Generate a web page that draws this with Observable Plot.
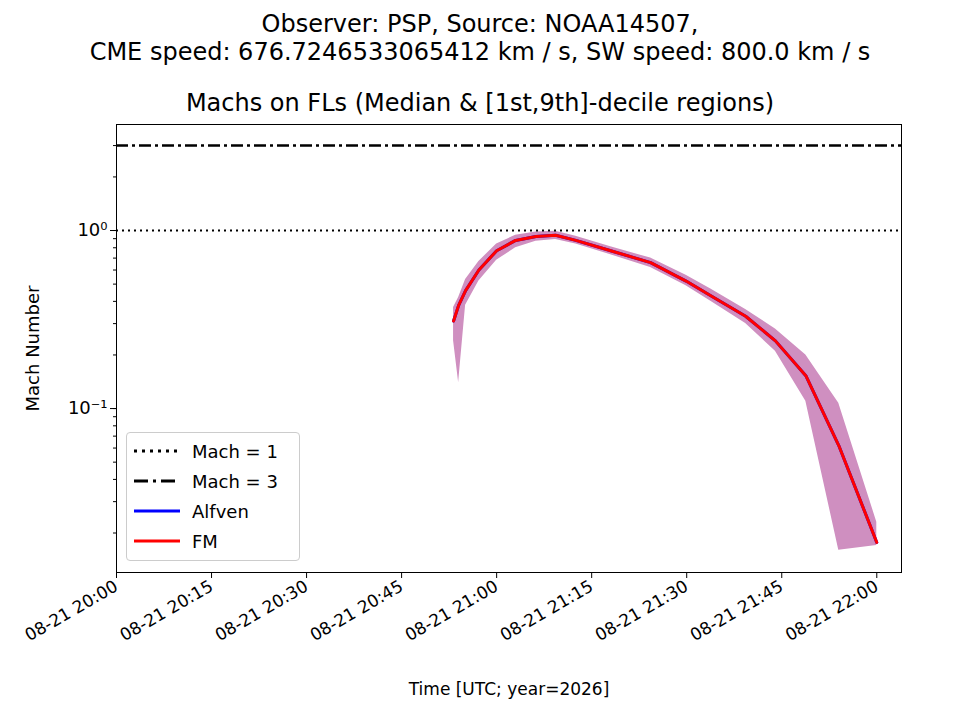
<!DOCTYPE html>
<html><head><meta charset="utf-8">
<script src="https://cdn.jsdelivr.net/npm/d3@7"></script>
<script src="https://cdn.jsdelivr.net/npm/@observablehq/plot@0.6"></script>
<style>
body{margin:0;font-family:"DejaVu Sans",sans-serif;background:#fff}
#wrap{position:relative;width:960px;height:720px}
.t{position:absolute;left:0;width:960px;text-align:center;font-size:24px;line-height:28px}
#leg{position:absolute;left:126px;top:432px;width:172px;height:127px;border:1px solid #ccc;border-radius:4px;background:rgba(255,255,255,0.8);font-size:18px}
#leg div{height:30px;display:flex;align-items:center}
#leg svg{margin:0 12px 0 7px}
</style></head><body>
<div id="wrap">
<div class="t" style="top:10px">Observer: PSP, Source: NOAA14507,<br>CME speed: 676.7246533065412 km / s, SW speed: 800.0 km / s</div>
<div class="t" style="top:89px">Machs on FLs (Median &amp; [1st,9th]-decile regions)</div>
<div id="chart"></div>
<div id="leg">
<div style="margin-top:3px"><svg width="46" height="10"><line x1="0" x2="46" y1="5" y2="5" stroke="#000" stroke-width="3" stroke-dasharray="3,5"/></svg>Mach = 1</div>
<div><svg width="46" height="10"><line x1="0" x2="46" y1="5" y2="5" stroke="#000" stroke-width="3" stroke-dasharray="14,5,3,5"/></svg>Mach = 3</div>
<div><svg width="46" height="10"><line x1="0" x2="46" y1="5" y2="5" stroke="blue" stroke-width="3"/></svg>Alfven</div>
<div><svg width="46" height="10"><line x1="0" x2="46" y1="5" y2="5" stroke="red" stroke-width="3"/></svg>FM</div>
</div>
</div>
<script>
const minutesAfter2000 = [53.2,54.0,55.1,57.2,60,63,66.2,69.3,72.5,78,84.3,89.9,93.8,99.3,104,108.8,114,120];
const fmMedian = [0.31,0.38,0.46,0.60,0.77,0.88,0.925,0.94,0.88,0.77,0.66,0.52,0.43,0.33,0.24,0.153,0.062,0.0177];
const fmLow    = [0.24,0.14,0.38,0.52,0.68,0.80,0.87,0.89,0.84,0.73,0.62,0.49,0.40,0.30,0.21,0.11,0.016,0.017];
const fmHigh   = [0.37,0.42,0.53,0.67,0.84,0.94,0.98,0.99,0.93,0.81,0.70,0.56,0.47,0.36,0.28,0.20,0.107,0.023];
const yTicks = [0.02,0.03,0.04,0.05,0.06,0.07,0.08,0.09,0.1,0.2,0.3,0.4,0.5,0.6,0.7,0.8,0.9,1,2,3];
const base = new Date(Date.UTC(2026,7,21,20,0,0));
const rows = minutesAfter2000.map((m,i)=>({t:new Date(+base+m*60000),med:fmMedian[i],lo:fmLow[i],hi:fmHigh[i]}));
const x0 = base, x1 = new Date(+base+123.9*60000);
const fmt = d3.utcFormat("%m-%d %H:%M");
const chart = Plot.plot({
  width:960,height:720,marginLeft:116,marginRight:59,marginTop:124,marginBottom:148,
  style:{fontFamily:"DejaVu Sans",fontSize:"17px",color:"#000"},
  x:{type:"utc",domain:[x0,x1],ticks:d3.utcMinute.every(15).range(x0,x1),tickFormat:fmt,tickRotate:-30,label:"Time [UTC; year=2026]",labelAnchor:"center",labelArrow:"none",labelOffset:122,tickSize:6},
  y:{type:"log",domain:[0.012,3.94],label:"Mach Number",labelAnchor:"center",labelArrow:"none"},
  marks:[
    Plot.axisY({ticks:yTicks,tickFormat:d=>d===1?"10⁰":d===0.1?"10⁻¹":"",tickSize:3,label:"Mach Number",labelAnchor:"center",labelArrow:"none",labelOffset:90,fontSize:18}),
    Plot.axisY({ticks:[0.1,1],tickFormat:()=>"",tickSize:6,label:null}),
    Plot.areaY(rows,{x:"t",y1:"lo",y2:"hi",fill:"#cf8fc0",curve:"linear"}),
    Plot.ruleY([1],{stroke:"#000",strokeWidth:2,strokeDasharray:"2,4"}),
    Plot.ruleY([3],{stroke:"#000",strokeWidth:2.5,strokeDasharray:"12,4,3,4"}),
    Plot.lineY(rows,{x:"t",y:"med",stroke:"blue",strokeWidth:3}),
    Plot.lineY(rows,{x:"t",y:"med",stroke:"red",strokeWidth:3}),
    Plot.frame({stroke:"#000"})
  ]
});
document.getElementById("chart").appendChild(chart);
</script>
</body></html>
